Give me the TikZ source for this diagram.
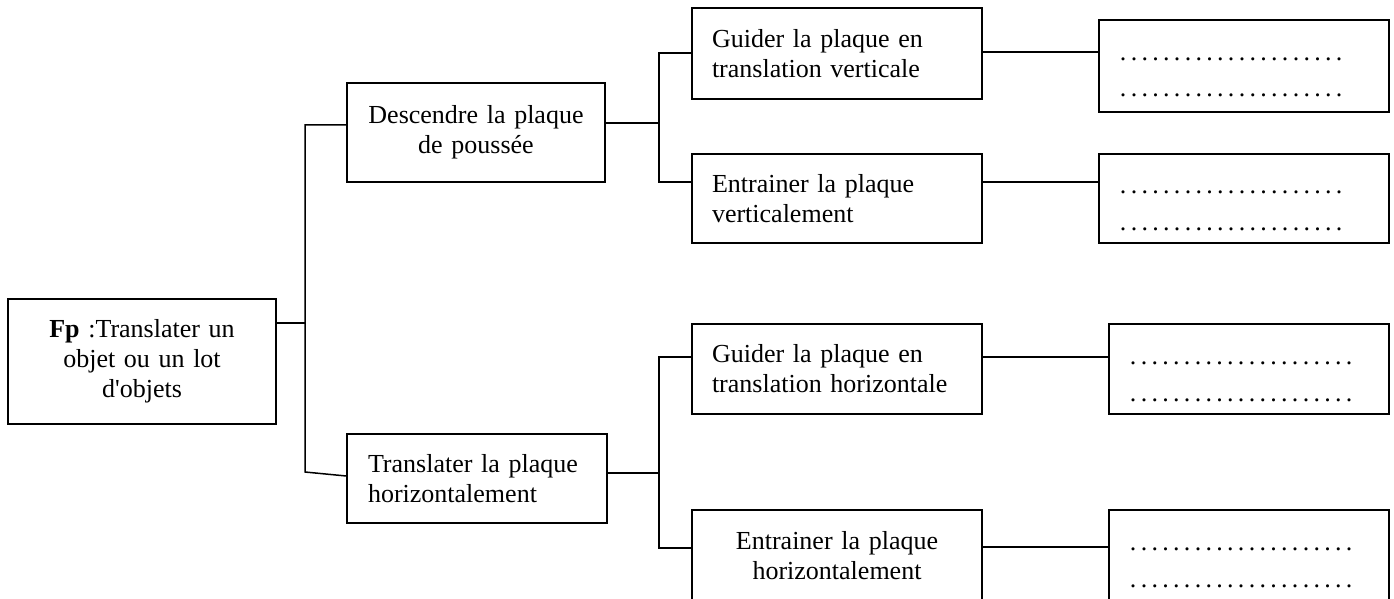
\documentclass[tikz,border=0pt]{standalone}
\usepackage{fontspec}
\setmainfont{Liberation Serif}
\newcommand\dd{\makebox[10.8pt]{.}}
\newcommand\dotrow{\dd\dd\dd\dd\dd\dd\dd\dd\dd\dd\dd\dd\dd\dd\dd\dd\dd\dd\dd\dd\dd}
\begin{document}
\begin{tikzpicture}[x=1pt,y=-1pt,
  txt/.style={font=\fontsize{26}{30}\selectfont},
  box/.style={draw,line width=1.5pt,inner ysep=0pt,txt},
  lbox/.style={box,align=left,text width=250pt,inner xsep=20pt},
  cbox/.style={box,align=center,inner xsep=0pt},
  dbox/.style={draw,line width=1.5pt,inner sep=0pt},
  dots/.style={txt,anchor=base west,inner sep=0pt},
  wire/.style={line width=1.5pt}]
\useasboundingbox (0,0) rectangle (1394,599);
\path[clip] (0,0) rectangle (1394,599);

% boxes
\node[cbox,minimum width=268pt,minimum height=125pt,text width=250pt] (fp) at (142,361.5)
  {{\bfseries Fp} :Translater un\\objet ou un lot\\d\textquotesingle objets};
\node[cbox,minimum width=258pt,minimum height=99pt,text width=240pt] (desc) at (476,132.5)
  {Descendre la plaque\\de poussée};
\node[box,align=left,text width=218pt,inner xsep=21pt,minimum height=89pt] (trans) at (477,478.5)
  {Translater la plaque\\horizontalement};
\node[lbox,minimum height=91pt] (gv) at (837,53.5) {Guider la plaque en\\translation verticale};
\node[lbox,minimum height=89pt] (ev) at (837,198.5) {Entrainer la plaque\\verticalement};
\node[lbox,minimum height=90pt] (gh) at (837,369) {Guider la plaque en\\translation horizontale};
\node[cbox,minimum width=290pt,minimum height=91pt,text width=270pt] (eh) at (837,555.5)
  {Entrainer la plaque\\horizontalement};

% answer boxes
\node[dbox,minimum width=290pt,minimum height=92pt] (d1) at (1244,66) {};
\node[dbox,minimum width=290pt,minimum height=89pt] (d2) at (1244,198.5) {};
\node[dbox,minimum width=280pt,minimum height=90pt] (d3) at (1249,369) {};
\node[dbox,minimum width=280pt,minimum height=91pt] (d4) at (1249,555.5) {};

\node[dots] (d1a) at (1117.6,60.5) {\dotrow};
\node[dots] (d1b) at (1117.6,96.5) {\dotrow};
\node[dots] (d2a) at (1117.6,193.5) {\dotrow};
\node[dots] (d2b) at (1117.6,230.5) {\dotrow};
\node[dots] (d3a) at (1127.6,364.5) {\dotrow};
\node[dots] (d3b) at (1127.6,401.5) {\dotrow};
\node[dots] (d4a) at (1127.6,550.5) {\dotrow};
\node[dots] (d4b) at (1127.6,587.5) {\dotrow};

% junctions
\coordinate (a0) at (305,323);
\coordinate (a1) at (305,125);
\coordinate (a2) at (305,472);
\coordinate (a3) at (347,476);
\coordinate (b0) at (659,123);
\coordinate (b1) at (659,53);
\coordinate (b2) at (659,182);
\coordinate (c0) at (659,473);
\coordinate (c1) at (659,357);
\coordinate (c2) at (659,548);
\coordinate (r1) at (1040,52);
\coordinate (r2) at (1040,182);
\coordinate (r3) at (1040,357);
\coordinate (r4) at (1040,547);

% connectors
\draw[wire] (a0 -| fp.east) -- (a0);
\draw[wire] (a1 -| desc.west) -- (a1) -- (a2) -- (a3 -| trans.west);
\draw[wire] (b0 -| desc.east) -- (b0);
\draw[wire] (b1 -| gv.west) -- (b1) -- (b2) -- (b2 -| ev.west);
\draw[wire] (c0 -| trans.east) -- (c0);
\draw[wire] (c1 -| gh.west) -- (c1) -- (c2) -- (c2 -| eh.west);
\draw[wire] (r1 -| gv.east) -- (r1 -| d1.west);
\draw[wire] (r2 -| ev.east) -- (r2 -| d2.west);
\draw[wire] (r3 -| gh.east) -- (r3 -| d3.west);
\draw[wire] (r4 -| eh.east) -- (r4 -| d4.west);
\end{tikzpicture}
\end{document}
